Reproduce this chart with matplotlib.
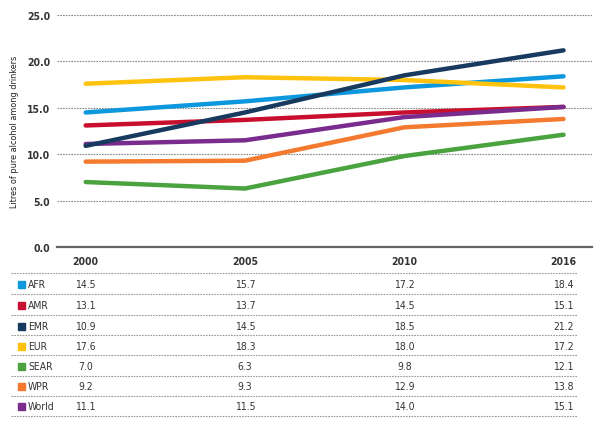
import numpy as np
import matplotlib
matplotlib.use("Agg")
import matplotlib.pyplot as plt
from matplotlib.transforms import blended_transform_factory
from matplotlib.lines import Line2D
from matplotlib.patches import Rectangle
from matplotlib import font_manager

# a narrow font if there is one
names = set(f.name for f in font_manager.fontManager.ttflist)
narrow = [f.name for f in font_manager.fontManager.ttflist if 'Narrow' in f.name or 'Condensed' in f.name]
print(sorted(set(narrow)))
print([ (f.name, f.stretch) for f in font_manager.fontManager.ttflist if f.name.startswith('DejaVu Sans')])
plt.rcParams['font.family'] = ['Liberation Sans Narrow', 'DejaVu Sans']
plt.rcParams['font.stretch'] = 'condensed'

# data
years = ['2000', '2005', '2010', '2016']
regions = ['AFR', 'AMR', 'EMR', 'EUR', 'SEAR', 'WPR', 'World']
afr = [14.5, 15.7, 17.2, 18.4]
amr = [13.1, 13.7, 14.5, 15.1]
emr = [10.9, 14.5, 18.5, 21.2]
eur = [17.6, 18.3, 18.0, 17.2]
sear = [7.0, 6.3, 9.8, 12.1]
wpr = [9.2, 9.3, 12.9, 13.8]
world = [11.1, 11.5, 14.0, 15.1]
values = [afr, amr, emr, eur, sear, wpr, world]
colors = ['#0d97dd', '#c8102e', '#173a5e', '#ffc20e', '#4aa33f', '#f47a2f', '#7a2c8e']
yticks = [0.0, 5.0, 10.0, 15.0, 20.0, 25.0]

fig = plt.figure(figsize=(6.0, 4.35), dpi=100)
ax = fig.add_axes([0.095, 0.43, 0.892, 0.533])

x = np.arange(len(years))
zorders = [3, 3, 5, 4, 3, 3, 4]
for vals, c, z in zip(values, colors, zorders):
    ax.plot(x, vals, color=c, lw=3.2, solid_capstyle='round', zorder=z)

ax.set_xlim(-0.18, 3.18)
ax.set_ylim(0, 25)
ax.set_yticks(yticks)
ax.set_yticklabels(['%.1f' % t for t in yticks], fontsize=7.5, fontweight='bold', color='#333333')
ax.set_xticks([])
for t in yticks[1:]:
    ax.axhline(t, color='#888888', lw=0.8, ls=(0, (1.5, 1)), zorder=1)
ax.axhline(0, color='#666666', lw=1.6, zorder=2, clip_on=False)
ax.tick_params(axis='y', length=0, pad=5)
for s in ax.spines.values():
    s.set_visible(False)
ax.set_ylabel('Litres of pure alcohol among drinkers', fontsize=6.5, color='#222222', labelpad=6)

# table below the chart
trans = blended_transform_factory(ax.transData, fig.transFigure)
def fy(py):
    return 1 - py / 435.0

for i, yr in enumerate(years):
    ax.text(i, fy(262), yr, transform=trans, ha='center', va='center',
            fontsize=7.5, fontweight='bold', color='#333333', clip_on=False)

sep_y = [274, 295, 316, 336, 356, 377, 397, 417]
for py in sep_y:
    fig.add_artist(Line2D([11 / 600, 577 / 600], [fy(py), fy(py)], transform=fig.transFigure,
                          color='#999999', lw=0.8, ls=(0, (1.5, 1))))

row_y = [285, 306, 327, 347, 367, 387, 407]
for name, vals, c, py in zip(regions, values, colors, row_y):
    fig.add_artist(Rectangle((18 / 600, fy(py) - 3.5 / 435), 7 / 600, 7 / 435,
                             transform=fig.transFigure, color=c))
    fig.text(28 / 600, fy(py), name, ha='left', va='center', fontsize=7.5, color='#333333')
    for i, v in enumerate(vals):
        ax.text(i, fy(py), '%.1f' % v, transform=trans, ha='center', va='center',
                fontsize=7.5, color='#333333', clip_on=False)

fig.savefig('out.png', dpi=100)
